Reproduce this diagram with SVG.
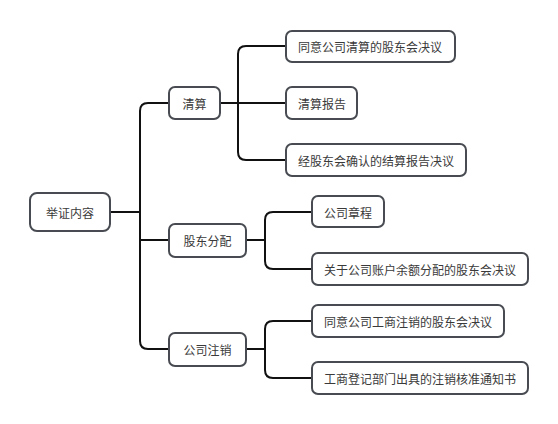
<svg xmlns="http://www.w3.org/2000/svg" width="558" height="424" viewBox="0 0 558 424">
<style>
.box{fill:#fff;stroke:#484c52;stroke-width:2}
.t{font-family:"Noto Sans CJK SC","Noto Sans",sans-serif;font-size:12px;fill:#3a3a3a;dominant-baseline:central}
.c{fill:none;stroke:#111;stroke-width:2}
</style>
<rect width="558" height="424" fill="#fff"/>
<g id="connectors">
<path class="c" d="M110 212H140" stroke-width="3"/>
<path class="c" d="M169 103H148Q140 103 140 111V341Q140 349 148 349H169"/>
<path class="c" d="M140 240H169"/>
<path class="c" d="M220 103H286"/>
<path class="c" d="M286 46H246Q238 46 238 54V152Q238 160 246 160H286"/>
<path class="c" d="M246 240H265"/>
<path class="c" d="M312 212H273Q265 212 265 220V261Q265 269 273 269H312"/>
<path class="c" d="M246 349H265"/>
<path class="c" d="M312 321H273Q265 321 265 329V370Q265 378 273 378H312"/>
</g>
<g id="root"><rect class="box" x="30" y="193" width="80" height="38" rx="7"/><text class="t" x="70" y="212" text-anchor="middle" font-size="13.5">举证内容</text></g>
<g id="n1"><rect class="box" x="169" y="87" width="51" height="32" rx="6"/><text class="t" x="194.5" y="103" text-anchor="middle">清算</text></g>
<g id="n2"><rect class="box" x="169" y="224" width="77" height="33" rx="6"/><text class="t" x="207.5" y="240" text-anchor="middle">股东分配</text></g>
<g id="n3"><rect class="box" x="169" y="333" width="77" height="33" rx="6"/><text class="t" x="207.5" y="349" text-anchor="middle">公司注销</text></g>
<g id="n11"><rect class="box" x="286" y="31" width="169" height="31" rx="6"/><text class="t" x="298" y="46">同意公司清算的股东会决议</text></g>
<g id="n12"><rect class="box" x="286" y="87" width="71" height="32" rx="6"/><text class="t" x="298" y="103">清算报告</text></g>
<g id="n13"><rect class="box" x="286" y="144" width="180" height="32" rx="6"/><text class="t" x="298" y="160">经股东会确认的结算报告决议</text></g>
<g id="n21"><rect class="box" x="312" y="196" width="72" height="31" rx="6"/><text class="t" x="324" y="212">公司章程</text></g>
<g id="n22"><rect class="box" x="312" y="253" width="216" height="32" rx="6"/><text class="t" x="324" y="269">关于公司账户余额分配的股东会决议</text></g>
<g id="n31"><rect class="box" x="312" y="305" width="192" height="32" rx="6"/><text class="t" x="324" y="321">同意公司工商注销的股东会决议</text></g>
<g id="n32"><rect class="box" x="312" y="362" width="216" height="32" rx="6"/><text class="t" x="324" y="378">工商登记部门出具的注销核准通知书</text></g>
</svg>
